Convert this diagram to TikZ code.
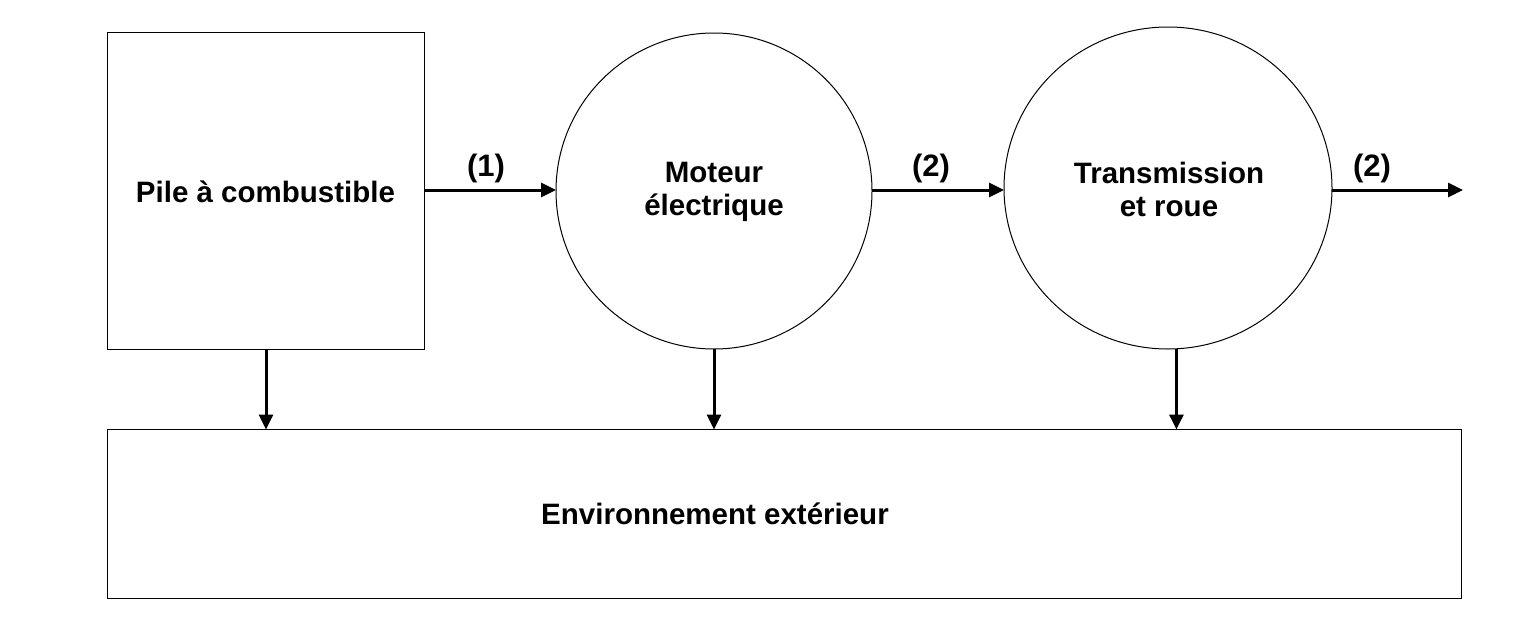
\documentclass[tikz,border=0pt]{standalone}
\usepackage{fontspec}
\setmainfont{Liberation Sans}
\usetikzlibrary{arrows.meta,shapes.geometric}
\begin{document}
\begin{tikzpicture}[x=1pt,y=-1pt,
  box/.style={draw=black,line width=1pt,inner sep=0pt,outer sep=0pt},
  roundbox/.style={ellipse,draw=black,line width=1pt,inner sep=0pt,outer sep=0pt},
  txt/.style={font=\fontsize{29.5}{33}\selectfont\bfseries,align=center},
  lbl/.style={font=\fontsize{31}{33}\selectfont\bfseries},
  flow/.style={line width=3pt,-{Triangle[length=15pt,width=14pt]}}]
\useasboundingbox (0,0) rectangle (1536,632);
\node[box,minimum width=317pt,minimum height=317pt] (pile) at (265.5,190.5) {};
\node[txt] (piletxt) at (265.5,192) {Pile à combustible};
\node[roundbox,minimum width=316pt,minimum height=316pt] (mot) at (714,191) {};
\node[txt] (mottxt) at (714,192) {Moteur\\électrique};
\node[roundbox,minimum width=328pt,minimum height=322pt] (trans) at (1168,188) {};
\node[txt] (transtxt) at (1169,189) {Transmission\\et roue};
\node[box,minimum width=1354pt,minimum height=169pt] (env) at (784,514) {};
\node[txt] (envtxt) at (715,514) {Environnement extérieur};
\coordinate (out) at (1463,190);
\draw[flow] (pile.east |- 0,190) -- (mot.west |- 0,190);
\draw[flow] (mot.east |- 0,190) -- (trans.west |- 0,190);
\draw[flow] (trans.east |- 0,190) -- (out);
\node[lbl] (l1) at (486,168) {(1)};
\node[lbl] (l2) at (931,168) {(2)};
\node[lbl] (l3) at (1372,168) {(2)};
\draw[flow] (pile.south -| 266,0) -- (env.north -| 266,0);
\draw[flow] (mot.south) -- (env.north -| mot.south);
\draw[flow] (trans.-87) -- (env.north -| trans.-87);
\end{tikzpicture}
\end{document}
